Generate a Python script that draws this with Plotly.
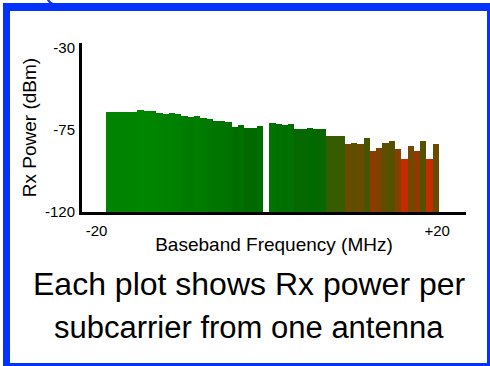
import plotly.graph_objects as go

# Subcarrier indices (left block, DC gap at -1, right block)
left_idx = list(range(-26, -1))
right_idx = list(range(0, 27))

left_power = [-65.0, -65.0, -65.0, -65.0, -65.0, -63.9, -64.7, -64.8, -65.5, -66.2,
              -65.8, -66.4, -67.3, -68.0, -67.5, -68.4, -69.1, -70.1, -70.1, -70.8,
              -73.2, -72.1, -73.7, -73.7, -72.8]
right_power = [-71.0, -71.7, -72.4, -71.9, -74.5, -74.5, -73.9, -74.3, -74.6, -78.3,
               -78.3, -78.3, -82.9, -82.0, -82.9, -79.6, -86.4, -84.9, -82.0, -81.0,
               -85.6, -91.1, -83.8, -86.4, -81.2, -91.1, -82.9]

subcarriers = left_idx + right_idx
power = left_power + right_power
floor_dbm = -120

y_ticks = [-120, -75, -30]
x_tick_pos = [-28, 26.2]
x_tick_text = ["-20", "+20"]

FONT = "Liberation Sans, Arial, Helvetica, sans-serif"
BLUE = "#0433ff"

colorscale = [
    [0.0, "rgb(205,40,0)"],
    [0.21, "rgb(140,60,0)"],
    [0.32, "rgb(105,75,0)"],
    [0.46, "rgb(65,88,0)"],
    [0.64, "rgb(0,105,0)"],
    [0.79, "rgb(0,118,0)"],
    [1.0, "rgb(0,135,0)"],
]

fig = go.Figure(go.Bar(
    x=subcarriers, y=[p - floor_dbm for p in power], base=floor_dbm,
    marker=dict(color=power, colorscale=colorscale, cmin=-92, cmax=-64,
                line=dict(width=0)),
    width=1.0,
))

W, H = 490, 366
L, R, T, B = 82, 24, 43, 154
pw, ph = W - L - R, H - T - B

def X(px):
    return (px - L) / pw

def Y(py):
    return (H - B - py) / ph

shapes = [
    dict(type="rect", xref="paper", yref="paper", x0=X(3), x1=X(10), y0=Y(370), y1=Y(3),
         fillcolor=BLUE, line=dict(width=0), layer="above"),
    dict(type="rect", xref="paper", yref="paper", x0=X(3), x1=X(495), y0=Y(11), y1=Y(3),
         fillcolor=BLUE, line=dict(width=0), layer="above"),
    dict(type="rect", xref="paper", yref="paper", x0=X(487), x1=X(495), y0=Y(370), y1=Y(3),
         fillcolor=BLUE, line=dict(width=0), layer="above"),
    dict(type="rect", xref="paper", yref="paper", x0=X(3), x1=X(495), y0=Y(370), y1=Y(363),
         fillcolor=BLUE, line=dict(width=0), layer="above"),
    dict(type="path", xref="paper", yref="paper",
         path=f"M {X(47)},{Y(-2)} Q {X(49)},{Y(3)} {X(55)},{Y(5)}",
         line=dict(color=BLUE, width=2), layer="above"),
]

fig.update_layout(
    width=W, height=H,
    margin=dict(l=L, r=R, t=T, b=B, pad=0),
    paper_bgcolor="white", plot_bgcolor="white",
    showlegend=False, bargap=0,
    font=dict(family=FONT, color="black", size=15),
    shapes=shapes,
    xaxis=dict(range=[-30.32, 30.8], showgrid=False, zeroline=False,
               showline=True, linecolor="black", linewidth=3,
               tickvals=x_tick_pos, ticktext=x_tick_text,
               ticks="outside", ticklen=3, tickcolor="rgba(0,0,0,0)",
               tickfont=dict(size=15),
               title=dict(text="Baseband Frequency (MHz)", font=dict(size=19), standoff=0)),
    yaxis=dict(range=[-120, -27.3], showgrid=False, zeroline=False,
               showline=True, linecolor="black", linewidth=3,
               tickvals=y_ticks, ticktext=[str(v) for v in y_ticks],
               ticks="outside", ticklen=1, tickcolor="rgba(0,0,0,0)",
               tickfont=dict(size=15),
               title=dict(text="Rx Power (dBm)", font=dict(size=19), standoff=4)),
    annotations=[
        dict(text="Each plot shows Rx power per", x=X(249), y=Y(284), xref="paper", yref="paper",
             showarrow=False, xanchor="center", yanchor="middle", font=dict(size=32)),
        dict(text="subcarrier from one antenna", x=X(249), y=Y(327), xref="paper", yref="paper",
             showarrow=False, xanchor="center", yanchor="middle", font=dict(size=31)),
    ],
)

fig.write_html("out.html", config={"displayModeBar": False},
               post_script="document.body.style.margin='0';document.body.style.padding='0';")
